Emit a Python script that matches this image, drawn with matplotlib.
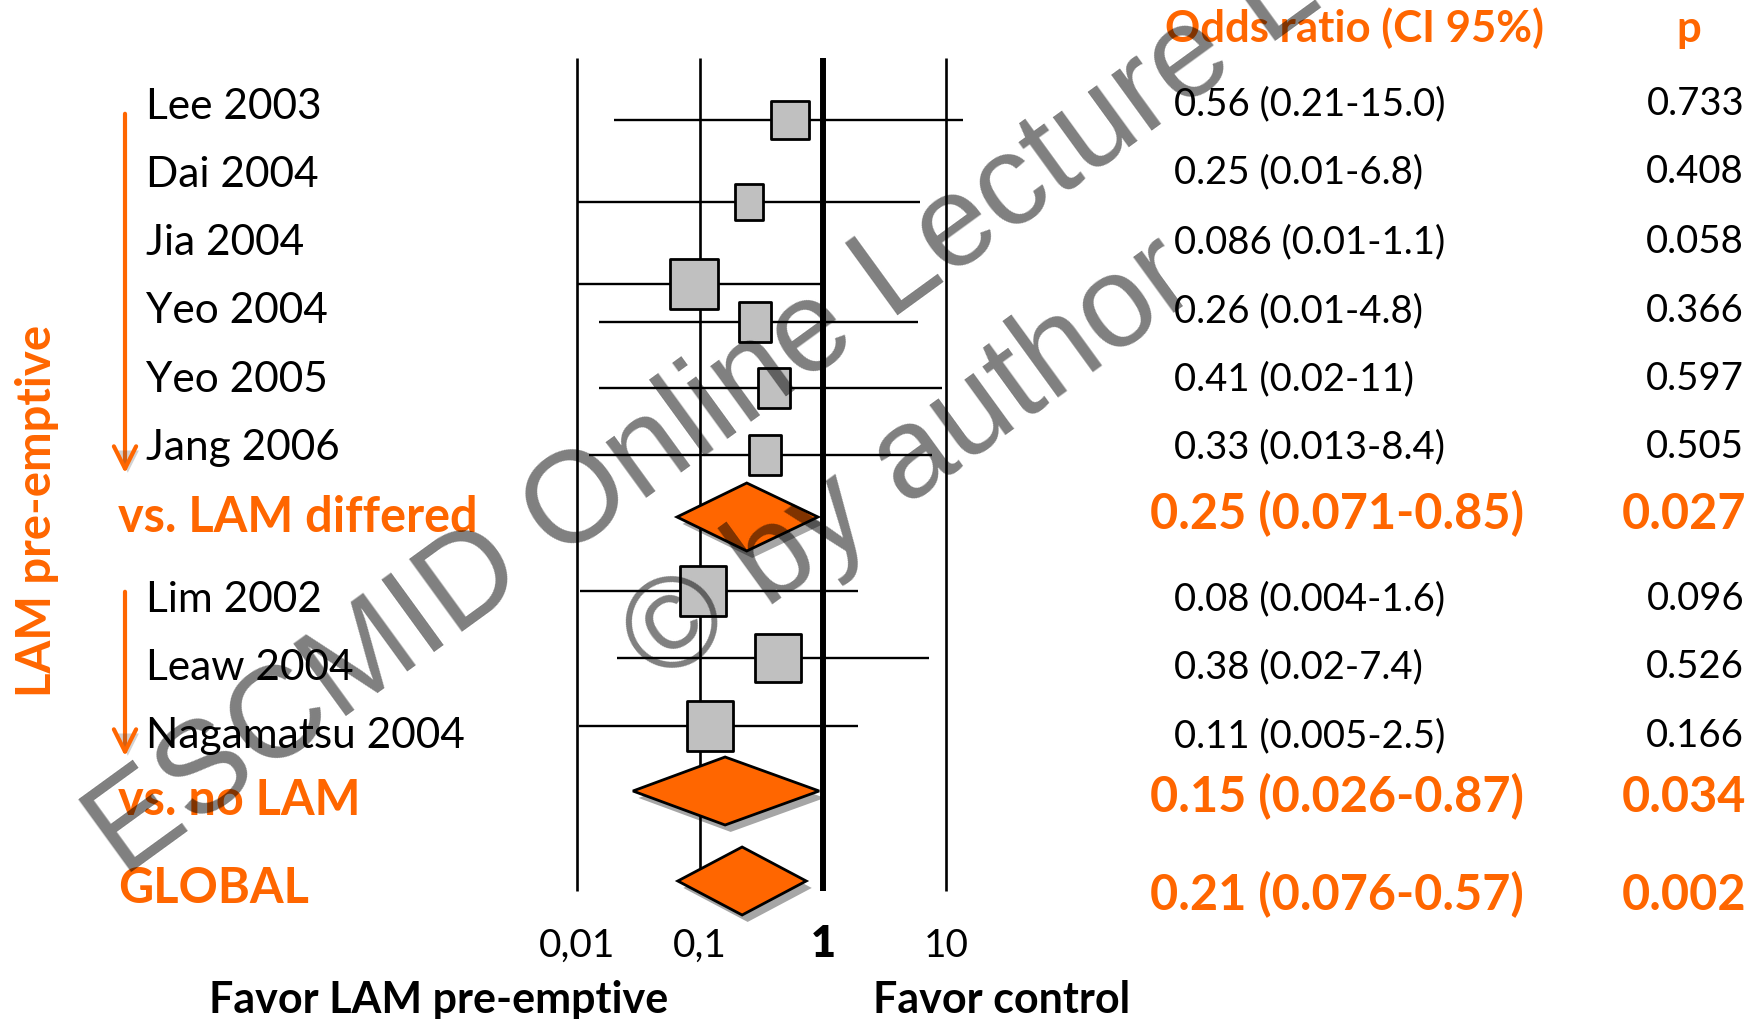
import matplotlib
matplotlib.use("Agg")
import matplotlib.pyplot as plt
from matplotlib.path import Path
from matplotlib.patches import FancyArrowPatch
import matplotlib.patheffects as pe

# ---- data ----
studies = ["Lee 2003", "Dai 2004", "Jia 2004", "Yeo 2004", "Yeo 2005", "Jang 2006",
           "Lim 2002", "Leaw 2004", "Nagamatsu 2004"]
# odds ratios / CI as drawn on the plot
or_est = [0.54, 0.25, 0.089, 0.28, 0.40, 0.34, 0.105, 0.43, 0.12]
ci_low = [0.02, 0.01, 0.01, 0.015, 0.015, 0.0125, 0.0105, 0.021, 0.0104]
ci_high = [13.7, 6.1, 1.0, 5.9, 9.3, 7.7, 1.93, 7.3, 1.93]
or_text = ["0.56 (0.21-15.0)", "0.25 (0.01-6.8)", "0.086 (0.01-1.1)", "0.26 (0.01-4.8)",
           "0.41 (0.02-11)", "0.33 (0.013-8.4)", "0.08 (0.004-1.6)", "0.38 (0.02-7.4)",
           "0.11 (0.005-2.5)"]
p_text = ["0.733", "0.408", "0.058", "0.366", "0.597", "0.505", "0.096", "0.526", "0.166"]

pooled_names = ["vs. LAM differed", "vs. no LAM", "GLOBAL"]
pooled_est = [0.24, 0.16, 0.22]
pooled_low = [0.065, 0.0285, 0.066]
pooled_high = [0.91, 0.93, 0.73]
pooled_text = ["0.25 (0.071-0.85)", "0.15 (0.026-0.87)", "0.21 (0.076-0.57)"]
pooled_p = ["0.027", "0.034", "0.002"]

grid_ticks = [0.01, 0.1, 1, 10]
tick_labels = ["0,01", "0,1", "1", "10"]

# ---- layout (pixels of the 1763x1020 canvas) ----
W, H = 1763, 1020
row_y = [121, 203, 285, 323, 389, 456, 592, 659, 727]
box_w = [38, 29, 48, 33, 33, 32, 47, 47, 47]
box_h = [38, 37, 50, 41, 41, 41, 50, 49, 50]
label_base = [119, 187, 255, 323, 392, 460, 612, 680, 748]
or_base = [115, 183, 253, 322, 390, 458, 610, 678, 747]
pooled_y = [518, 792, 882]
pooled_label_base = [532, 815, 903]
pooled_or_base = [529, 812, 910]

ORANGE = "#FF6600"
FONT = "Lato"
DPI = 100


def fx(px):
    return px / W


def fy(py):
    return 1 - py / H


fig = plt.figure(figsize=(W / DPI, H / DPI), dpi=DPI)

# forest axes: value 1 at x=823 px, one decade = 123 px
ax_l, ax_r = 550, 985
ax = fig.add_axes([fx(ax_l), 0, (ax_r - ax_l) / W, 1])
ax.set_xscale("log")
ax.set_xlim(10 ** ((ax_l - 823) / 123), 10 ** ((ax_r - 823) / 123))
ax.set_ylim(H, 0)
ax.axis("off")

for t in grid_ticks:
    ax.vlines(t, 59, 892, color="black", lw=4.3 if t == 1 else 1.9, zorder=1)

for i in range(len(studies)):
    ax.hlines(row_y[i], ci_low[i], ci_high[i], color="black", lw=1.7, zorder=2)
    hw, hh = box_w[i] / 2, box_h[i] / 2
    rect = Path([(-hw, -hh), (hw, -hh), (hw, hh), (-hw, hh), (-hw, -hh)],
                [Path.MOVETO, Path.LINETO, Path.LINETO, Path.LINETO, Path.CLOSEPOLY])
    ax.plot(or_est[i], row_y[i], marker=rect, markersize=max(box_w[i], box_h[i]) / 1.389,
            markerfacecolor="#C0C0C0", markeredgecolor="black", markeredgewidth=2.0,
            linestyle="none", zorder=3)

shadow = [pe.SimplePatchShadow(offset=(4, -5), shadow_rgbFace="black", alpha=0.35), pe.Normal()]
for i in range(len(pooled_est)):
    y = pooled_y[i]
    ax.fill([pooled_low[i], pooled_est[i], pooled_high[i], pooled_est[i]],
            [y, y - 34, y, y + 34], facecolor=ORANGE, edgecolor="black", lw=2.0,
            zorder=4, path_effects=shadow)

for t, lab in zip(grid_ticks, tick_labels):
    bold = lab == "1"
    ax.text(t, 957, lab, ha="center", va="baseline", fontsize=31 if bold else 28, family=FONT,
            fontweight="heavy" if bold else "normal")

# ---- text columns ----
for i, name in enumerate(studies):
    fig.text(fx(146), fy(label_base[i]), name, ha="left", va="baseline", fontsize=30.5, family=FONT)
    fig.text(fx(1174), fy(or_base[i]), or_text[i], ha="left", va="baseline", fontsize=27.5, family=FONT)
    fig.text(fx(1744), fy(or_base[i]), p_text[i], ha="right", va="baseline", fontsize=27.5, family=FONT)

for i, name in enumerate(pooled_names):
    fig.text(fx(118), fy(pooled_label_base[i]), name, ha="left", va="baseline", fontsize=35,
             family=FONT, fontweight="bold", color=ORANGE)
    fig.text(fx(1150), fy(pooled_or_base[i]), pooled_text[i], ha="left", va="baseline",
             fontsize=35, family=FONT, fontweight="bold", color=ORANGE)
    fig.text(fx(1746), fy(pooled_or_base[i]), pooled_p[i], ha="right", va="baseline",
             fontsize=35, family=FONT, fontweight="bold", color=ORANGE)

fig.text(fx(1165), fy(42), "Odds ratio (CI 95%)", ha="left", va="baseline", fontsize=31.5,
         family=FONT, fontweight="bold", color=ORANGE)
fig.text(fx(1689), fy(42), "p", ha="center", va="baseline", fontsize=31.5,
         family=FONT, fontweight="bold", color=ORANGE)

fig.text(fx(37), fy(511), "LAM pre-emptive", rotation=90, ha="center", va="center", fontsize=34,
         family=FONT, fontweight="bold", color=ORANGE)

fig.text(fx(439), fy(1013), "Favor LAM pre-emptive", ha="center", va="baseline", fontsize=31,
         family=FONT, fontweight="bold")
fig.text(fx(1002), fy(1013), "Favor control", ha="center", va="baseline", fontsize=31,
         family=FONT, fontweight="bold")

# group arrows
arrow_fx = [pe.SimplePatchShadow(offset=(2, -3), alpha=0.25), pe.Normal()]
for y0, y1 in [(112, 477), (590, 760)]:
    arr = FancyArrowPatch((fx(125), fy(y0)), (fx(125), fy(y1)), transform=fig.transFigure,
                          arrowstyle="->", mutation_scale=40, color=ORANGE, lw=3.0,
                          path_effects=arrow_fx)
    fig.add_artist(arr)

# watermark
for (x0, y0), txt in [((123, 878), "ESCMID Online Lecture Library"), ((660, 686), "\u00a9 by author")]:
    fig.text(fx(x0), fy(y0), txt, rotation=36, rotation_mode="anchor", ha="left", va="baseline",
             fontsize=93, family="Liberation Sans", color="black", alpha=0.5, zorder=10)

fig.savefig("out.png", dpi=DPI, facecolor="white")
plt.close(fig)
